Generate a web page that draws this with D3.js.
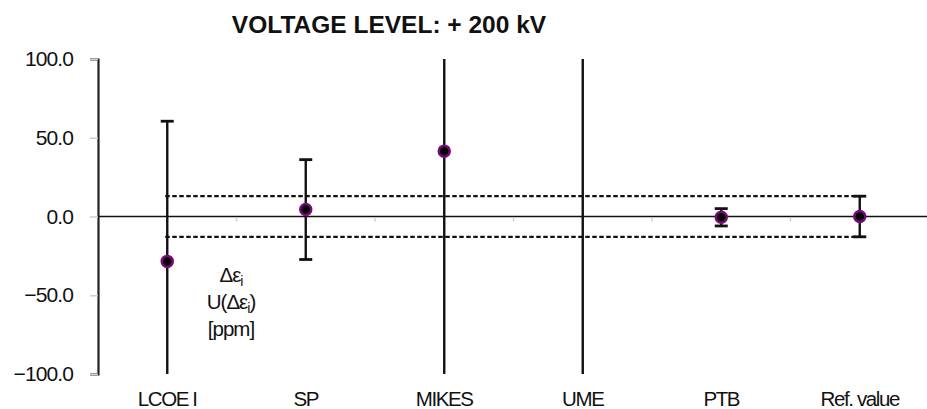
<!DOCTYPE html>
<html>
<head>
<meta charset="utf-8">
<script src="https://cdn.jsdelivr.net/npm/d3@7/dist/d3.min.js"></script>
<style>
  html, body { margin: 0; padding: 0; background: #ffffff; }
  svg { display: block; }
  text { font-family: "Liberation Sans", Arial, sans-serif; fill: #111; }
</style>
</head>
<body>
<svg id="chart" width="927" height="409"></svg>
<script>
// ---- data ----
const title = "VOLTAGE LEVEL: + 200 kV";
const categories = ["LCOE I", "SP", "MIKES", "UME", "PTB", "Ref. value"];
const values = [-28.5, 4.4, 41.5, 150, -0.5, 0.0];          // Δε_i [ppm]
const uncertainties = [89, 31.7, 160, 300, 5.5, 12.9];      // U(Δε_i) [ppm]
const yTicks = [-100, -50, 0, 50, 100];
const yDomain = [-100, 100];
const refU = 12.9;
const annotationLines = ["Δε", "U(Δε", "[ppm]"];

// ---- layout ----
const svg = d3.select("#chart");
const mLeft = 98, mRight = 929, mTop = 59, mBottom = 374;

const x = d3.scaleBand().domain(categories).range([mLeft, mRight]).padding(0);
const y = d3.scaleLinear().domain(yDomain).range([mBottom, mTop]);
const cx = c => x(c) + x.bandwidth() / 2;

// clip
svg.append("defs").append("clipPath").attr("id", "plotclip")
  .append("rect").attr("x", mLeft).attr("y", mTop).attr("width", 927 - mLeft).attr("height", mBottom - mTop);

// title
svg.append("text")
  .attr("x", 389).attr("y", 33)
  .attr("text-anchor", "middle")
  .style("font-size", "24.5px").style("font-weight", "bold")
  .text(title);

// y axis
const yAxis = d3.axisLeft(y).tickValues(yTicks).tickFormat(d3.format(".1f")).tickSize(8).tickSizeOuter(8).tickPadding(17);
const gy = svg.append("g").attr("transform", `translate(${mLeft},0)`).call(yAxis);
gy.select(".domain").attr("stroke", "#222").attr("stroke-width", 2.2);
gy.selectAll(".tick line").attr("stroke", "#cfcfcf").attr("stroke-width", 1.5);
gy.selectAll(".tick text").style("font-size", "21px").attr("fill", "#111").style("letter-spacing", "-0.9px");

// x axis line at zero
svg.append("line")
  .attr("x1", mLeft).attr("x2", 927).attr("y1", y(0)).attr("y2", y(0))
  .attr("stroke", "#111").attr("stroke-width", 1.6);
// small band-boundary ticks
svg.append("g").selectAll("line").data(categories.slice(1)).join("line")
  .attr("x1", d => x(d)).attr("x2", d => x(d))
  .attr("y1", y(0) + 1).attr("y2", y(0) + 5)
  .attr("stroke", "#cfcfcf").attr("stroke-width", 1.5);

// category labels
svg.append("g").selectAll("text").data(categories).join("text")
  .attr("x", d => cx(d)).attr("y", 406)
  .attr("text-anchor", "middle")
  .style("font-size", "20.5px").style("letter-spacing", "-1.4px")
  .text(d => d);

// dashed reference band
const plot = svg.append("g").attr("clip-path", "url(#plotclip)");
[refU, -refU].forEach(v => {
  plot.append("line")
    .attr("x1", cx(categories[0]) - 2).attr("x2", cx(categories[categories.length - 1]) + 5)
    .attr("y1", y(v)).attr("y2", y(v))
    .attr("stroke", "#111").attr("stroke-width", 2.3).attr("stroke-dasharray", "4.5,2.5");
});

// error bars
const data = categories.map((c, i) => ({ c, v: values[i], u: uncertainties[i] }));
const capW = 6.5;
const eb = plot.append("g").selectAll("g").data(data).join("g");
eb.append("line")
  .attr("x1", d => cx(d.c)).attr("x2", d => cx(d.c))
  .attr("y1", d => y(d.v + d.u)).attr("y2", d => y(d.v - d.u))
  .attr("stroke", "#111").attr("stroke-width", 2.4);
eb.filter(d => d.v + d.u <= yDomain[1]).append("line")
  .attr("x1", d => cx(d.c) - capW).attr("x2", d => cx(d.c) + capW)
  .attr("y1", d => y(d.v + d.u)).attr("y2", d => y(d.v + d.u))
  .attr("stroke", "#111").attr("stroke-width", 2.8);
eb.filter(d => d.v - d.u >= yDomain[0]).append("line")
  .attr("x1", d => cx(d.c) - capW).attr("x2", d => cx(d.c) + capW)
  .attr("y1", d => y(d.v - d.u)).attr("y2", d => y(d.v - d.u))
  .attr("stroke", "#111").attr("stroke-width", 2.8);

// points
plot.append("g").selectAll("circle").data(data.filter(d => d.v >= yDomain[0] && d.v <= yDomain[1])).join("circle")
  .attr("cx", d => cx(d.c)).attr("cy", d => y(d.v))
  .attr("r", 5.5)
  .attr("fill", "#000").attr("stroke", "#7a0a7a").attr("stroke-width", 2.5);

// annotation
const ann = svg.append("text").attr("text-anchor", "middle")
  .style("font-size", "20.5px").style("letter-spacing", "-1px");
const l1 = ann.append("tspan").attr("x", 231).attr("y", 282);
l1.append("tspan").text(annotationLines[0]);
l1.append("tspan").attr("dy", 4).style("font-size", "14px").text("i");
const l2 = ann.append("tspan").attr("x", 231).attr("y", 309);
l2.append("tspan").text(annotationLines[1]);
l2.append("tspan").attr("dy", 4).style("font-size", "14px").text("i");
l2.append("tspan").attr("dy", -4).text(")");
ann.append("tspan").attr("x", 231).attr("y", 336).text(annotationLines[2]);
</script>
</body>
</html>
